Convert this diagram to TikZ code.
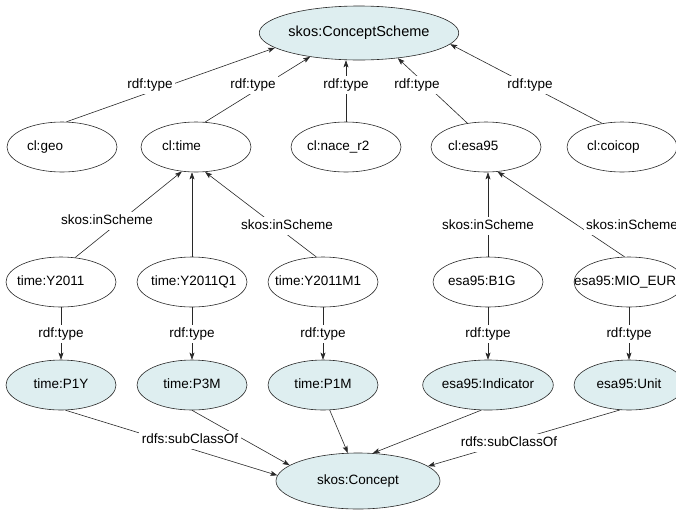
\documentclass[tikz,border=0pt]{standalone}
\usepackage{fontspec}
\setmainfont{Liberation Sans}
\usetikzlibrary{shapes.geometric,arrows.meta}
\definecolor{nodefill}{RGB}{222,238,240}
\definecolor{edgegray}{RGB}{40,40,40}
% text that starts a fixed distance left of the node centre
\newcommand\lefttxt[2]{\rlap{\hspace*{-#1pt}#2}}

\begin{document}
\begin{tikzpicture}[x=1pt,y=-1pt,
  every node/.style={font=\fontsize{13.5}{16}\selectfont, text height=10pt, text depth=3pt},
  res/.style={draw=edgegray, ellipse, minimum width=110pt, minimum height=50pt, inner sep=0pt, line width=0.6pt},
  cls/.style={res, fill=nodefill},
  lbl/.style={fill=white, inner sep=2.5pt},
  arr/.style={draw=edgegray, line width=0.6pt, -{Stealth[length=7pt,width=5pt,inset=1.5pt]}}
]
\useasboundingbox (0,0) rectangle (676,512);

% scheme and concept classes
\node[cls, minimum width=166pt, minimum height=54pt, font=\fontsize{14.5}{17}\selectfont] (cs) at (359,33) {skos:ConceptScheme};
\node[cls, minimum width=164pt, minimum height=56pt] (concept) at (358,481) {skos:Concept};

% code lists
\node[res] (geo)    at (62,147)  {\lefttxt{35}{cl:geo}};
\node[res] (time)   at (196,147) {\lefttxt{34}{cl:time}};
\node[res] (nace)   at (346,147) {\lefttxt{39}{cl:nace\_r2}};
\node[res] (esa)    at (486,147) {\lefttxt{38}{cl:esa95}};
\node[res] (coicop) at (622,147) {\lefttxt{35}{cl:coicop}};

% code list members
\node[res] (y2011) at (61,282)  {\lefttxt{44}{time:Y2011}};
\node[res] (q1)    at (192,282) {\lefttxt{41}{time:Y2011Q1}};
\node[res] (m1)    at (323,282) {\lefttxt{48}{time:Y2011M1}};
\node[res] (b1g)   at (488,282) {\lefttxt{40}{esa95:B1G}};
\node[res] (mio)   at (629,282) {\lefttxt{55}{esa95:MIO\_EUR}};

% member classes
\node[cls] (p1y)  at (61,385)  {time:P1Y};
\node[cls] (p3m)  at (192,385) {time:P3M};
\node[cls] (p1m)  at (323,385) {time:P1M};
\node[cls] (ind)  at (488,385) {esa95:Indicator};
\node[cls] (unit) at (629,385) {esa95:Unit};

% rdf:type links to the concept scheme
\draw[arr] (geo.80) -- (cs.190);
\draw[arr] (time.70) -- (cs.206);
\draw[arr] (nace.north) -- (nace.north |- cs.south);
\draw[arr] (esa.128) -- (cs.-33);
\draw[arr] (coicop.130) -- (cs.-7);
\node[lbl] (l1) at (150,85) {rdf:type};
\node[lbl] (l2) at (253,85) {rdf:type};
\node[lbl] (l3) at (346,85) {rdf:type};
\node[lbl] (l4) at (417,85) {rdf:type};
\node[lbl] (l5) at (530,85) {rdf:type};

% skos:inScheme links
\draw[arr] (y2011.60) -- (time.240);
\draw[arr] (q1.north) -- (q1.north |- time.south);
\draw[arr] (m1.105) -- (time.290);
\draw[arr] (b1g.north) -- (b1g.north |- esa.south);
\draw[arr] (mio.100) -- (esa.295);
\node[lbl] (s1) at (107,221) {skos:inScheme};
\node[lbl] (s2) at (287,226) {skos:inScheme};
\node[lbl] (s3) at (488,226) {skos:inScheme};
\node[lbl] (s4) at (632,226) {skos:inScheme};

% rdf:type links to the period and measure classes
\draw[arr] (y2011) -- (p1y);
\draw[arr] (q1) -- (p3m);
\draw[arr] (m1) -- (p1m);
\draw[arr] (b1g) -- (ind);
\draw[arr] (mio) -- (unit);
\node[lbl] (t1) at (61,334)  {rdf:type};
\node[lbl] (t2) at (192,334) {rdf:type};
\node[lbl] (t3) at (323,334) {rdf:type};
\node[lbl] (t4) at (488,334) {rdf:type};
\node[lbl] (t5) at (629,334) {rdf:type};

% rdfs:subClassOf links
\draw[arr] (p3m.270) -- (concept.167);
\draw[arr] (p1y.280) -- (concept.176);
\draw[arr] (p1m.285) -- (concept.110);
\draw[arr] (ind.255) -- (concept.62);
\draw[arr] (unit.250) -- (concept.12);
\node[lbl] (r1) at (190,440) {rdfs:subClassOf};
\node[lbl] (r2) at (509,443) {rdfs:subClassOf};
\end{tikzpicture}
\end{document}
